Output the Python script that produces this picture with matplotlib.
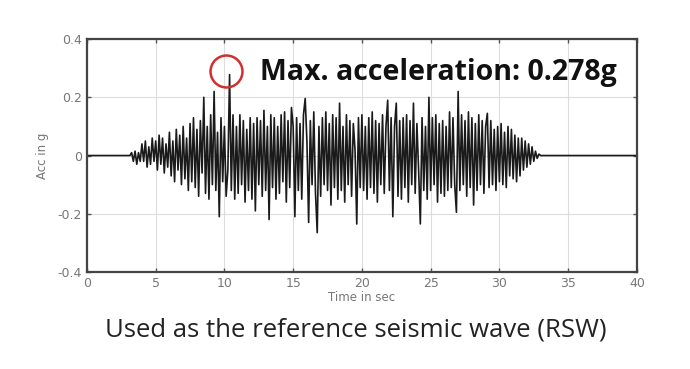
import numpy as np
import matplotlib.pyplot as plt

# Acceleration peaks, 8 samples per second (dt = 0.125 s)
t_first = 3.0
dt = 0.125
acc_peaks = [
    0, 0, 0.01, -0.02, 0.015, -0.03, 0.01, -0.02,            # 3 s
    0.04, -0.02, 0.05, -0.04, 0.03, -0.03, 0.06, -0.02,      # 4 s
    0.05, -0.05, 0.07, -0.03, 0.06, -0.06, 0.04, -0.04,      # 5 s
    0.08, -0.07, 0.05, -0.09, 0.09, -0.05, 0.07, -0.1,       # 6 s
    0.1, -0.08, 0.06, -0.12, 0.11, -0.09, 0.13, -0.11,       # 7 s
    0.09, -0.14, 0.12, -0.06, 0.2, -0.13, 0.1, -0.15,        # 8 s
    0.14, -0.1, 0.22, -0.12, 0.08, -0.21, 0.13, -0.09,       # 9 s
    0.1, -0.14, -0.05, 0.278, -0.12, 0.14, -0.15, 0.1,       # 10 s
    -0.13, 0.14, -0.1, 0.12, -0.16, 0.09, -0.12, 0.13,       # 11 s
    -0.15, 0.11, -0.19, 0.13, -0.1, 0.12, -0.14, 0.155,      # 12 s
    -0.12, 0.1, -0.22, 0.14, -0.11, 0.13, -0.15, 0.1,        # 13 s
    -0.13, 0.14, -0.09, 0.15, -0.16, 0.12, -0.11, 0.165,     # 14 s
    0.1, -0.21, 0.13, -0.12, 0.11, -0.15, 0.14, 0.196,       # 15 s
    0.05, -0.23, 0.12, -0.1, 0.15, -0.13, -0.265, 0.1,       # 16 s
    -0.14, 0.13, -0.1, 0.15, -0.12, 0.11, -0.17, 0.14,       # 17 s
    -0.11, 0.13, -0.15, 0.18, -0.12, 0.1, -0.16, 0.14,       # 18 s
    -0.1, 0.12, -0.14, 0.11, 0.02, -0.235, 0.13, -0.11,      # 19 s
    0.14, -0.12, 0.1, -0.15, 0.13, -0.11, 0.15, -0.13,       # 20 s
    0.12, -0.16, 0.11, -0.1, 0.14, -0.13, 0.1, 0.19,         # 21 s
    -0.12, 0.13, -0.21, 0.1, 0.18, -0.14, 0.12, -0.15,       # 22 s
    0.13, -0.11, 0.14, -0.16, 0.12, -0.1, 0.18, -0.13,       # 23 s
    0.11, -0.05, -0.235, 0.13, -0.12, 0.1, -0.15, 0.2,       # 24 s
    -0.12, 0.13, -0.1, 0.14, -0.16, 0.11, -0.13, 0.12,       # 25 s
    -0.14, 0.1, -0.12, 0.15, -0.11, 0.13, -0.1, -0.195,      # 26 s
    0.22, -0.12, 0.14, -0.1, 0.12, -0.14, 0.15, -0.11,       # 27 s
    0.13, -0.17, 0.11, -0.12, 0.14, -0.1, 0.12, -0.13,       # 28 s
    0.1, 0.145, -0.11, 0.12, -0.1, 0.09, -0.12, 0.1,         # 29 s
    -0.09, 0.11, -0.1, 0.08, -0.11, 0.1, -0.07, 0.09,        # 30 s
    -0.08, 0.07, -0.09, 0.06, -0.07, 0.06, -0.05, 0.05,      # 31 s
    -0.04, 0.04, -0.03, 0.03, -0.02, 0.015, -0.01, 0.005,    # 32 s
]
t_quiet_end = 40.0
max_acc = 0.278
max_time = 10.1

xticks = [0, 5, 10, 15, 20, 25, 30, 35, 40]
yticks = [-0.4, -0.2, 0, 0.2, 0.4]
ytick_labels = ['-0.4', '-0.2', '0', '0.2', '0.4']

### Build time axis (quiet before and after the shaking)
t = t_first + dt * np.arange(len(acc_peaks))
time = np.concatenate([[0.0], t, [t[-1] + dt, t_quiet_end]])
acc = np.concatenate([[0.0], acc_peaks, [0.0, 0.0]])

fig = plt.figure(figsize=(6.9, 3.69), dpi=100)
ax = fig.add_axes([0.126, 0.263, 0.797, 0.631])

ax.plot(time, acc, color='#1a1a1a', linewidth=1.2)

ax.set_xlim(0, 40)
ax.set_ylim(-0.4, 0.4)
ax.set_xticks(xticks)
ax.set_yticks(yticks)
ax.set_yticklabels(ytick_labels)
ax.grid(True, color='#dddddd', linewidth=0.8)
ax.tick_params(direction='in', top=True, right=True, length=3, width=1,
               colors='#555555', labelsize=9, labelcolor='#777777')
for s in ax.spines.values():
    s.set_color('#444444')
    s.set_linewidth(1.6)
ax.set_xlabel('Time in sec', fontsize=8.5, color='#777777', labelpad=1)
ax.set_ylabel('Acc in g', fontsize=8.5, color='#777777', labelpad=6)

# max acceleration marker
ax.plot([max_time], [max_acc + 0.014], marker='o', markersize=23, markerfacecolor='none',
        markeredgecolor='#d03030', markeredgewidth=1.8, linestyle='none')
ax.text(12.6, 0.285, 'Max. acceleration: ' + str(max_acc) + 'g', fontsize=20.5,
        fontweight='bold', family='Open Sans', va='center', ha='left', color='#111111')

fig.text(0.515, 0.105, 'Used as the reference seismic wave (RSW)', fontsize=18.5,
         family='Open Sans', ha='center', va='center', color='#222222')

fig.savefig('out.png', dpi=100)
